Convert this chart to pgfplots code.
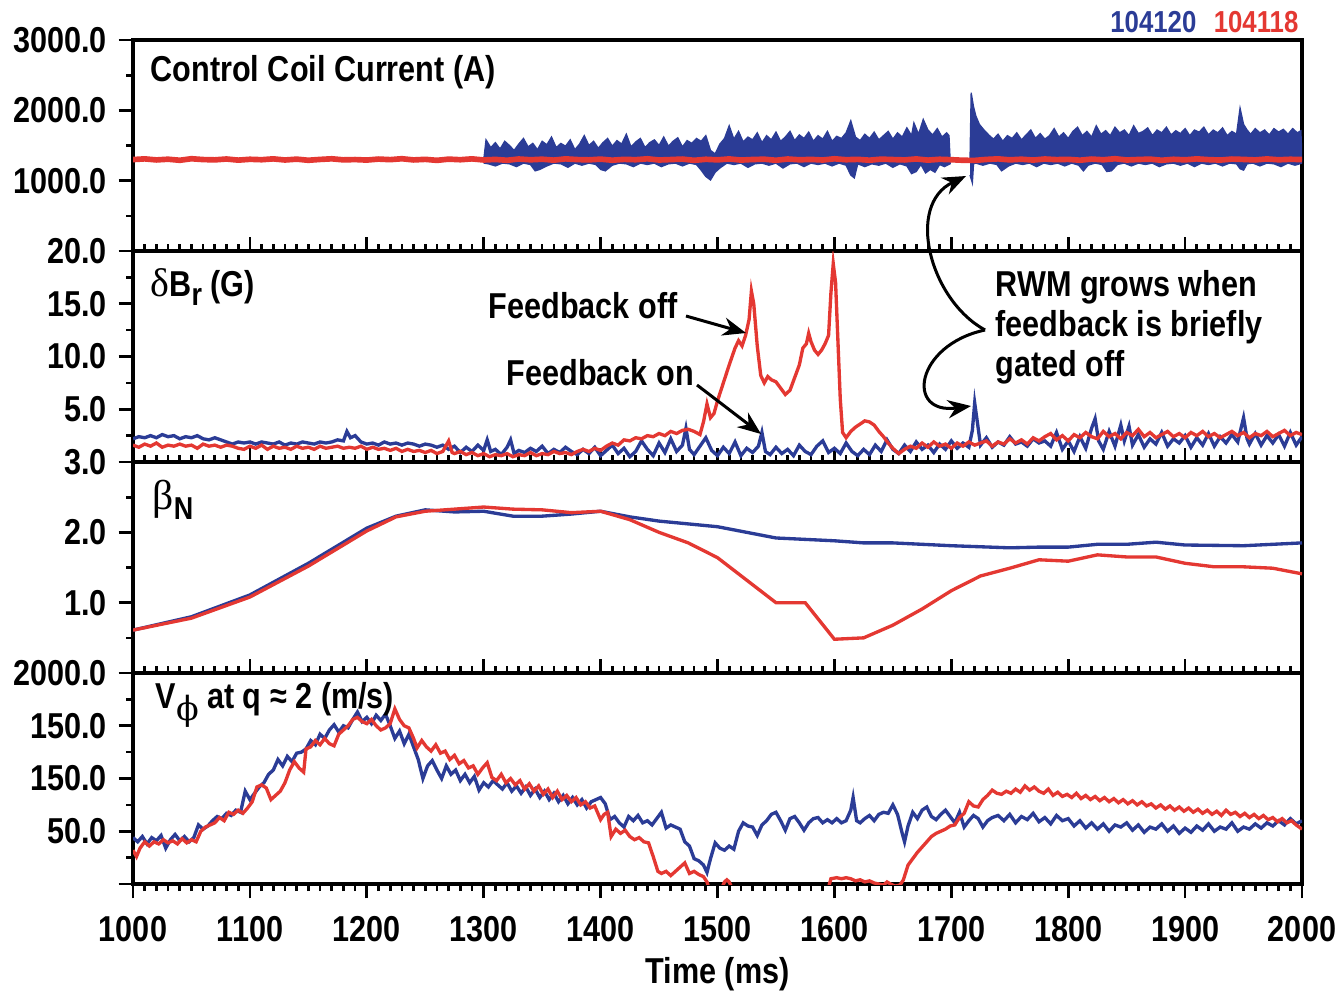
\documentclass[border=0pt]{standalone}
\usepackage{fontspec}
\setmainfont{Liberation Sans}[FakeStretch=0.85]
\newfontfamily\grk{Liberation Serif}
\newfontfamily\grkb{DejaVu Serif}
\usepackage{pgfplots}
\pgfplotsset{compat=1.18}
\usetikzlibrary{arrows.meta}
\definecolor{cblue}{RGB}{43,60,150}
\definecolor{cred}{RGB}{228,56,50}
\newcommand\tl{\fontsize{10.8}{12}\selectfont\bfseries}
\pgfplotsset{panel/.style={scale only axis, width=350.7pt, height=63.3pt,
  xmin=1000, xmax=2000, anchor=south west,
  axis line style={line width=1.1pt},
  xtick={1000,1100,...,2000}, minor x tick num=9,
  xtick pos=left, ytick pos=left, xtick align=inside, ytick align=outside,
  major tick length=4.3pt, minor tick length=2.1pt,
  tick style={line width=0.8pt, black},
  tick label style={font=\tl}, xticklabels={},
  unbounded coords=jump}}
\begin{document}
\begin{tikzpicture}
\path[use as bounding box] (0,0) rectangle (403.2pt,-297pt);
% ---------- panel 1 ----------
\begin{axis}[panel, at={(39.9pt,-75.3pt)}, ymin=0, ymax=3000,
  ytick={0,1000,2000,3000}, yticklabels={20.0,1000.0,2000.0,3000.0}, minor y tick num=1]
\addplot[cblue, line width=1pt] coordinates {(1000,1300) (1300,1300)};
\addplot[cblue, line width=1pt] coordinates {(1698,1300) (1717,1300)};
\addplot[draw=cblue, fill=cblue, line width=0.4pt] coordinates {
(1300,1290) (1302,1580) (1306,1470) (1310,1540) (1314,1450) (1318,1560) (1322,1500) (1326,1430) (1330,1520) (1334,1600)
(1338,1480) (1342,1530) (1346,1440) (1350,1560) (1354,1510) (1358,1620) (1362,1470) (1366,1530) (1370,1490) (1374,1580)
(1378,1440) (1382,1520) (1386,1640) (1390,1500) (1394,1560) (1398,1460) (1402,1540) (1406,1600) (1410,1490) (1414,1570)
(1418,1520) (1422,1660) (1426,1480) (1430,1550) (1434,1600) (1438,1470) (1442,1540) (1446,1580) (1450,1500) (1454,1620)
(1458,1490) (1462,1560) (1466,1610) (1470,1480) (1474,1570) (1478,1530) (1482,1600) (1486,1560) (1490,1640) (1494,1430)
(1498,1380) (1502,1520) (1506,1600) (1510,1780) (1514,1590) (1518,1700) (1522,1550) (1526,1620) (1530,1580) (1534,1680)
(1538,1540) (1542,1640) (1546,1580) (1550,1690) (1554,1560) (1558,1620) (1562,1700) (1566,1570) (1570,1650) (1574,1600)
(1578,1690) (1582,1560) (1586,1640) (1590,1590) (1594,1700) (1598,1560) (1602,1630) (1606,1600) (1610,1680) (1614,1850)
(1618,1620) (1622,1570) (1626,1660) (1630,1600) (1634,1690) (1638,1580) (1642,1640) (1646,1700) (1650,1590) (1654,1680)
(1658,1620) (1662,1750) (1666,1640) (1668,1820) (1672,1660) (1676,1870) (1680,1720) (1684,1650) (1688,1740) (1692,1620)
(1696,1680) (1698,1640) (1699,1290)
(1699,1240) (1694,1200) (1690,1230) (1686,1120) (1682,1160) (1678,1110) (1674,1230) (1670,1130) (1666,1100) (1662,1210)
(1656,1240) (1650,1190) (1644,1250) (1638,1220) (1632,1240) (1626,1200) (1620,1240) (1617,1040) (1614,1080) (1610,1220)
(1604,1250) (1598,1210) (1592,1250) (1586,1230) (1580,1250) (1574,1200) (1568,1250) (1562,1240) (1556,1180) (1550,1250)
(1544,1220) (1538,1250) (1532,1240) (1526,1190) (1520,1250) (1514,1230) (1508,1250) (1502,1180) (1498,1120) (1494,1010)
(1490,1060) (1486,1150) (1482,1230) (1476,1250) (1470,1210) (1464,1250) (1458,1240) (1452,1200) (1446,1250) (1440,1230)
(1434,1250) (1428,1200) (1422,1240) (1416,1250) (1410,1220) (1404,1140) (1400,1160) (1396,1230) (1390,1250) (1384,1220)
(1378,1250) (1372,1190) (1366,1240) (1360,1250) (1354,1210) (1348,1160) (1344,1140) (1340,1230) (1334,1250) (1328,1200)
(1322,1240) (1316,1250) (1310,1210) (1304,1240) (1300,1250)};
\addplot[draw=cblue, fill=cblue, line width=0.4pt] coordinates {
(1716,1290) (1717,2250) (1719,2050) (1721,1920) (1724,1800) (1728,1720) (1732,1650) (1736,1590) (1740,1660) (1744,1560)
(1748,1640) (1752,1600) (1756,1680) (1760,1580) (1764,1650) (1768,1720) (1772,1600) (1776,1670) (1780,1590) (1784,1640)
(1788,1740) (1792,1620) (1796,1680) (1800,1600) (1804,1700) (1808,1760) (1812,1640) (1816,1700) (1820,1620) (1824,1780)
(1828,1660) (1832,1710) (1836,1640) (1840,1760) (1844,1680) (1848,1720) (1852,1640) (1856,1780) (1860,1670) (1864,1700)
(1868,1750) (1872,1640) (1876,1720) (1880,1680) (1884,1760) (1888,1650) (1892,1710) (1896,1670) (1900,1740) (1904,1640)
(1908,1720) (1912,1690) (1916,1760) (1920,1650) (1924,1720) (1928,1680) (1932,1750) (1936,1640) (1940,1700) (1944,1660)
(1947,2030) (1950,1800) (1953,1720) (1956,1660) (1960,1740) (1964,1680) (1968,1720) (1972,1650) (1976,1740) (1980,1690)
(1984,1730) (1988,1660) (1992,1740) (1996,1680) (1999,1710) (2000,1300)
(2000,1250) (1994,1220) (1988,1250) (1982,1200) (1976,1240) (1970,1250) (1964,1210) (1958,1250) (1953,1240) (1950,1150)
(1947,1170) (1944,1240) (1938,1250) (1932,1210) (1926,1250) (1920,1230) (1914,1250) (1908,1200) (1902,1250) (1896,1220)
(1890,1250) (1884,1240) (1878,1200) (1872,1250) (1866,1230) (1860,1250) (1854,1210) (1848,1250) (1842,1230) (1837,1140)
(1833,1130) (1829,1230) (1823,1250) (1817,1220) (1813,1140) (1809,1220) (1803,1250) (1797,1210) (1791,1250) (1785,1230)
(1779,1250) (1773,1200) (1767,1250) (1761,1230) (1755,1250) (1749,1210) (1743,1140) (1739,1230) (1733,1250) (1727,1220)
(1721,1250) (1719,1240) (1718,970) (1716,1080)};
\addplot[cred, line width=1.7pt] coordinates {
(1000,1300) (1010,1310) (1020,1295) (1030,1305) (1040,1290) (1050,1312) (1060,1300) (1070,1296) (1080,1308) (1090,1292)
(1100,1304) (1110,1298) (1120,1310) (1130,1294) (1140,1306) (1150,1290) (1160,1302) (1170,1311) (1180,1296) (1190,1300)
(1200,1293) (1210,1307) (1220,1299) (1230,1312) (1240,1295) (1250,1303) (1260,1289) (1270,1306) (1280,1298) (1290,1310)
(1300,1294) (1310,1302) (1320,1290) (1330,1308) (1340,1297) (1350,1305) (1360,1292) (1370,1310) (1380,1300) (1390,1296)
(1400,1306) (1410,1291) (1420,1303) (1430,1298) (1440,1311) (1450,1294) (1460,1300) (1470,1307) (1480,1289) (1490,1304)
(1500,1296) (1510,1309) (1520,1293) (1530,1301) (1540,1305) (1550,1290) (1560,1308) (1570,1297) (1580,1302) (1590,1294)
(1600,1311) (1610,1298) (1620,1303) (1630,1291) (1640,1306) (1650,1300) (1660,1295) (1670,1309) (1680,1292) (1690,1304)
(1700,1298) (1710,1290) (1720,1288) (1730,1302) (1740,1310) (1750,1296) (1760,1305) (1770,1293) (1780,1308) (1790,1299)
(1800,1303) (1810,1291) (1820,1307) (1830,1297) (1840,1312) (1850,1294) (1860,1301) (1870,1306) (1880,1290) (1890,1304)
(1900,1296) (1910,1310) (1920,1299) (1930,1293) (1940,1307) (1950,1302) (1960,1295) (1970,1309) (1980,1297) (1990,1304) (2000,1300)};
\end{axis}
% ---------- panel 2 ----------
\begin{axis}[panel, at={(39.9pt,-138.6pt)}, ymin=0, ymax=20,
  ytick={0,5,10,15}, yticklabels={3.0,5.0,10.0,15.0}, minor ytick={2.5,7.5,12.5,17.5}]
\addplot[cblue, line width=1pt] coordinates {
(1000,2.2) (1005,2.4) (1010,2.3) (1015,2.5) (1020,2.3) (1025,2.6) (1030,2.4) (1035,2.5) (1040,2.2) (1045,2.4)
(1050,2.3) (1055,2.5) (1060,2.2) (1065,2.1) (1070,2.3) (1075,2.1) (1080,1.9) (1085,1.7) (1090,1.9) (1095,1.8)
(1100,1.9) (1105,1.7) (1110,1.9) (1115,1.8) (1120,1.7) (1125,1.9) (1130,1.6) (1135,1.8) (1140,1.7) (1145,1.9)
(1150,1.8) (1155,1.7) (1160,1.9) (1165,1.8) (1170,1.9) (1175,2.1) (1180,2.0) (1183,2.9) (1186,2.3) (1190,2.5)
(1195,1.9) (1200,1.7) (1205,1.8) (1210,1.6) (1215,1.9) (1220,1.7) (1225,1.8) (1230,1.6) (1235,1.8) (1240,1.7)
(1245,1.5) (1250,1.7) (1255,1.6) (1260,1.4) (1265,1.6) (1270,1.2) (1275,1.5) (1280,0.9) (1285,1.4) (1290,1.0)
(1295,1.6) (1300,1.1) (1303,2.1) (1306,1.0) (1310,1.2) (1315,0.7) (1320,1.4) (1323,2.1) (1326,0.8) (1330,1.1)
(1335,0.9) (1340,1.3) (1345,1.0) (1350,1.5) (1355,0.8) (1360,1.2) (1365,0.9) (1370,1.4) (1375,1.0) (1380,0.7)
(1385,1.2) (1390,0.8) (1395,1.4) (1400,0.6) (1405,1.1) (1410,1.6) (1415,0.8) (1420,1.3) (1425,0.5) (1430,1.0)
(1435,2.0) (1440,1.2) (1445,0.6) (1450,1.8) (1455,0.9) (1460,2.2) (1465,1.0) (1470,1.6) (1473,3.2) (1476,1.2)
(1480,0.7) (1485,1.5) (1490,2.3) (1495,1.1) (1500,0.6) (1505,1.4) (1510,0.8) (1515,1.9) (1520,0.6) (1525,1.3)
(1530,0.9) (1535,1.5) (1538,2.8) (1541,1.0) (1545,0.7) (1550,1.4) (1555,0.8) (1560,1.2) (1565,0.6) (1570,1.6)
(1575,1.0) (1580,0.7) (1585,1.5) (1590,2.0) (1595,0.9) (1600,1.3) (1605,0.8) (1610,1.8) (1615,1.0) (1620,0.6)
(1625,1.2) (1630,0.7) (1635,1.6) (1640,1.0) (1645,2.1) (1650,1.2) (1655,0.8) (1660,1.6) (1665,1.0) (1670,1.9)
(1675,1.2) (1680,1.6) (1685,0.9) (1690,1.7) (1695,1.2) (1700,2.0) (1705,1.3) (1710,1.8) (1715,1.4) (1718,3.0)
(1720,5.6) (1722,4.0) (1725,1.6) (1730,2.3) (1735,1.4) (1740,1.9) (1745,1.6) (1750,2.4) (1755,1.7) (1760,1.9)
(1765,1.5) (1770,2.2) (1775,1.8) (1780,2.0) (1785,1.5) (1790,2.8) (1795,1.2) (1800,2.0) (1805,1.0) (1810,2.4)
(1815,1.3) (1820,3.2) (1823,4.1) (1826,2.0) (1830,1.2) (1835,2.9) (1840,1.5) (1845,3.5) (1848,2.0) (1852,3.4)
(1855,1.6) (1860,2.6) (1865,1.4) (1870,2.2) (1875,1.7) (1880,2.8) (1885,1.5) (1890,2.2) (1895,1.8) (1900,2.5)
(1905,1.4) (1910,2.3) (1915,1.6) (1920,2.7) (1925,1.5) (1930,2.4) (1935,1.8) (1940,2.6) (1945,1.9) (1950,4.2)
(1953,2.2) (1955,1.7) (1960,2.7) (1965,1.6) (1970,2.5) (1975,1.8) (1980,2.6) (1985,1.5) (1990,2.8) (1995,1.6) (2000,2.4)};
\addplot[cred, line width=1pt] coordinates {
(1000,1.6) (1005,1.4) (1010,1.7) (1015,1.5) (1020,1.8) (1025,1.4) (1030,1.6) (1035,1.5) (1040,1.7) (1045,1.5)
(1050,1.6) (1055,1.3) (1060,1.7) (1065,1.5) (1070,1.6) (1075,1.4) (1080,1.6) (1085,1.5) (1090,1.3) (1095,1.2)
(1100,1.5) (1105,1.3) (1110,1.6) (1115,1.2) (1120,1.5) (1125,1.3) (1130,1.4) (1135,1.2) (1140,1.5) (1145,1.3)
(1150,1.4) (1155,1.2) (1160,1.5) (1165,1.3) (1170,1.4) (1175,1.5) (1180,1.3) (1185,1.4) (1190,1.3) (1195,1.5)
(1200,1.2) (1205,1.4) (1210,1.2) (1215,1.3) (1220,1.1) (1225,1.3) (1230,1.0) (1235,1.2) (1240,1.0) (1245,1.1)
(1250,0.9) (1255,1.1) (1260,0.8) (1265,1.0) (1270,2.0) (1273,0.9) (1275,0.8) (1280,1.0) (1285,0.7) (1290,0.9)
(1295,0.6) (1300,0.8) (1305,0.5) (1310,0.7) (1315,0.6) (1320,0.8) (1325,0.5) (1330,0.7) (1335,0.6) (1340,0.9)
(1345,0.6) (1350,0.8) (1355,0.7) (1360,1.0) (1365,0.8) (1370,0.9) (1375,0.7) (1380,1.0) (1385,1.2) (1390,1.0)
(1395,1.3) (1400,1.1) (1405,1.5) (1410,1.8) (1415,1.6) (1420,2.1) (1425,2.0) (1430,2.3) (1435,2.2) (1440,2.5)
(1445,2.4) (1450,2.7) (1455,2.5) (1460,2.9) (1465,2.7) (1470,3.0) (1475,3.1) (1480,2.9) (1485,2.6) (1488,3.8)
(1491,5.5) (1494,4.2) (1497,4.6) (1500,5.8) (1505,7.5) (1510,9.2) (1515,10.8) (1518,11.5) (1521,11.0) (1524,12.0)
(1527,13.5) (1529,16.2) (1531,15.0) (1534,11.0) (1537,8.2) (1540,7.5) (1543,8.1) (1546,7.8) (1550,7.6) (1554,7.0)
(1558,6.4) (1562,6.8) (1566,8.0) (1570,9.2) (1573,10.8) (1576,11.2) (1578,12.2) (1580,11.4) (1583,10.6) (1586,10.2)
(1589,10.6) (1592,11.2) (1595,12.0) (1597,16.0) (1599,18.8) (1601,17.0) (1603,11.5) (1605,6.0) (1607,2.8) (1610,2.3)
(1614,2.9) (1618,3.3) (1622,3.6) (1626,3.9) (1630,3.8) (1634,3.5) (1638,2.9) (1642,2.4) (1646,1.8) (1650,1.3)
(1655,0.8) (1660,1.2) (1665,1.5) (1670,1.3) (1675,1.8) (1680,1.4) (1685,1.9) (1690,1.5) (1695,1.7) (1700,1.3)
(1705,1.8) (1710,1.5) (1715,1.9) (1720,1.6) (1725,1.8) (1730,2.0) (1735,1.5) (1740,1.9) (1745,1.7) (1750,2.2)
(1755,1.8) (1760,2.1) (1765,1.7) (1770,2.3) (1775,2.0) (1780,2.4) (1785,2.7) (1790,2.1) (1795,2.5) (1800,2.0)
(1805,2.6) (1810,2.3) (1815,2.8) (1820,2.4) (1825,2.2) (1830,2.9) (1835,2.4) (1840,2.7) (1845,2.2) (1850,2.8)
(1855,2.5) (1860,3.1) (1865,2.4) (1870,2.8) (1875,2.3) (1880,2.6) (1885,2.9) (1890,2.4) (1895,2.7) (1900,2.3)
(1905,2.8) (1910,2.5) (1915,2.9) (1920,2.4) (1925,2.7) (1930,2.3) (1935,2.6) (1940,2.9) (1945,2.5) (1950,2.8)
(1955,2.3) (1960,2.7) (1965,2.5) (1970,2.9) (1975,2.4) (1980,2.7) (1985,3.0) (1990,2.5) (1995,2.8) (2000,2.6)};
\end{axis}
% ---------- panel 3 ----------
\begin{axis}[panel, at={(39.9pt,-201.9pt)}, ymin=0, ymax=3,
  ytick={0,1,2}, yticklabels={2000.0,1.0,2.0}, minor ytick={0.5,1.5,2.5}]
\addplot[cblue, line width=1pt] coordinates {
(1000,0.61) (1050,0.80) (1100,1.11) (1150,1.56) (1200,2.06) (1225,2.23) (1250,2.32) (1275,2.29) (1300,2.30)
(1325,2.23) (1350,2.23) (1375,2.26) (1400,2.30) (1425,2.22) (1450,2.16) (1500,2.08) (1550,1.92) (1600,1.88)
(1625,1.85) (1650,1.85) (1700,1.81) (1750,1.78) (1775,1.79) (1800,1.79) (1825,1.83) (1850,1.83) (1875,1.86)
(1900,1.82) (1950,1.81) (2000,1.85)};
\addplot[cred, line width=1pt] coordinates {
(1000,0.61) (1050,0.78) (1100,1.08) (1150,1.52) (1200,2.02) (1225,2.22) (1250,2.30) (1275,2.33) (1300,2.36)
(1325,2.33) (1350,2.32) (1375,2.28) (1400,2.30) (1425,2.18) (1450,2.00) (1475,1.85) (1500,1.64) (1525,1.32)
(1550,1.00) (1575,1.00) (1600,0.48) (1625,0.50) (1650,0.68) (1675,0.91) (1700,1.17) (1725,1.38) (1750,1.49)
(1775,1.61) (1800,1.59) (1825,1.68) (1850,1.65) (1875,1.65) (1900,1.56) (1925,1.51) (1950,1.51) (1975,1.49) (2000,1.41)};
\end{axis}
% ---------- panel 4 ----------
\begin{axis}[panel, at={(39.9pt,-265.2pt)}, ymin=0, ymax=200,
  ytick={0,50,100,150}, yticklabels={,50.0,150.0,150.0}, minor ytick={25,75,125,175},
  xtick align=outside, xticklabels={1000,1100,1200,1300,1400,1500,1600,1700,1800,1900,2000},
  xticklabel style={yshift=-1.8pt},
  xlabel={Time (ms)}, xlabel style={font=\tl, yshift=2.2pt}]
\addplot[cblue, line width=1pt] coordinates {
(1000,44) (1004,40) (1008,45) (1012,38) (1016,44) (1020,41) (1024,46) (1028,34) (1032,42) (1036,47)
(1040,41) (1044,45) (1048,40) (1052,44) (1056,56) (1060,52) (1064,55) (1068,60) (1072,64) (1076,62)
(1080,67) (1084,65) (1088,70) (1092,68) (1096,88) (1100,80) (1104,86) (1108,92) (1112,96) (1116,104)
(1120,108) (1124,118) (1128,112) (1132,121) (1136,116) (1140,124) (1144,125) (1148,128) (1152,136) (1156,132)
(1160,142) (1164,138) (1168,146) (1172,151) (1176,144) (1180,150) (1184,148) (1188,156) (1192,163) (1196,154)
(1200,158) (1204,152) (1208,160) (1212,155) (1216,161) (1220,150) (1224,138) (1228,145) (1232,133) (1236,142)
(1240,130) (1244,118) (1248,100) (1252,112) (1256,117) (1260,108) (1264,100) (1268,112) (1272,104) (1276,108)
(1280,98) (1284,104) (1288,96) (1292,102) (1296,89) (1300,96) (1304,92) (1308,98) (1312,94) (1316,90)
(1320,96) (1324,88) (1328,93) (1332,86) (1336,92) (1340,84) (1344,90) (1348,82) (1352,88) (1356,80)
(1360,86) (1364,78) (1368,84) (1372,76) (1376,82) (1380,75) (1384,80) (1388,72) (1392,78) (1396,80)
(1400,82) (1404,76) (1408,61) (1412,64) (1416,58) (1420,54) (1424,64) (1428,60) (1432,65) (1436,58)
(1440,60) (1444,56) (1448,62) (1452,68) (1456,53) (1460,56) (1464,54) (1468,52) (1472,40) (1476,36)
(1480,24) (1484,22) (1488,18) (1491,11) (1494,24) (1498,39) (1502,34) (1506,32) (1510,36) (1514,33)
(1518,50) (1522,58) (1526,55) (1530,54) (1534,46) (1538,56) (1542,60) (1546,66) (1550,68) (1554,60)
(1558,51) (1562,62) (1566,64) (1570,58) (1574,51) (1578,58) (1582,62) (1586,63) (1590,58) (1594,61)
(1598,58) (1602,62) (1606,58) (1610,60) (1614,70) (1616,82) (1619,60) (1622,58) (1626,62) (1630,65)
(1634,60) (1638,66) (1642,68) (1646,67) (1650,75) (1654,66) (1658,48) (1660,40) (1663,55) (1667,68)
(1671,62) (1675,70) (1679,73) (1683,64) (1687,61) (1691,66) (1695,70) (1699,64) (1703,58) (1707,68)
(1711,54) (1715,60) (1719,65) (1723,62) (1727,54) (1731,60) (1735,63) (1740,65) (1745,60) (1750,66)
(1755,58) (1760,64) (1765,61) (1770,67) (1775,59) (1780,63) (1785,57) (1790,65) (1795,60) (1800,62)
(1805,55) (1810,60) (1815,53) (1820,58) (1825,52) (1830,57) (1835,50) (1840,56) (1845,54) (1850,58)
(1855,51) (1860,56) (1865,49) (1870,54) (1875,52) (1880,57) (1885,50) (1890,55) (1895,48) (1900,53)
(1905,49) (1910,55) (1915,51) (1920,57) (1925,50) (1930,54) (1935,52) (1940,58) (1945,50) (1950,54)
(1955,52) (1960,57) (1965,53) (1970,58) (1975,55) (1980,60) (1985,56) (1990,62) (1995,57) (2000,60)};
\addplot[cred, line width=1pt] coordinates {
(1000,32) (1003,26) (1006,34) (1010,40) (1014,36) (1018,40) (1022,38) (1026,42) (1030,39) (1034,41)
(1038,38) (1042,43) (1046,39) (1050,42) (1054,40) (1058,50) (1062,54) (1066,56) (1070,58) (1074,63)
(1078,60) (1082,68) (1086,66) (1090,70) (1094,67) (1098,72) (1102,78) (1106,92) (1110,94) (1114,91)
(1118,80) (1122,84) (1126,88) (1130,96) (1134,108) (1138,116) (1142,110) (1146,106) (1148,128) (1152,130)
(1156,136) (1160,132) (1164,138) (1168,133) (1172,131) (1176,142) (1180,146) (1184,150) (1188,156) (1192,158)
(1196,154) (1200,152) (1204,156) (1208,150) (1212,146) (1216,148) (1220,152) (1224,166) (1228,156) (1232,150)
(1236,148) (1240,138) (1243,129) (1247,136) (1251,130) (1255,126) (1259,132) (1263,124) (1267,126) (1271,118)
(1275,122) (1279,114) (1283,117) (1287,110) (1291,112) (1295,104) (1299,110) (1303,115) (1307,101) (1311,98)
(1315,104) (1319,96) (1323,100) (1327,94) (1331,98) (1335,90) (1339,95) (1343,88) (1347,93) (1351,85)
(1355,90) (1359,82) (1363,88) (1367,80) (1371,84) (1375,78) (1379,82) (1383,75) (1387,78) (1391,72)
(1395,74) (1400,61) (1403,66) (1406,68) (1409,45) (1413,52) (1417,48) (1421,51) (1425,45) (1429,42)
(1433,44) (1437,40) (1441,39) (1445,26) (1449,12) (1452,10) (1456,12) (1460,8) (1464,12) (1468,16)
(1472,20) (1476,10) (1480,12) (1484,9) (1488,7) (1491,2) (1493,-5) (1495,nan)
(1504,-3) (1506,2) (1508,4) (1510,2) (1512,-3) (1514,nan)
(1595,-3) (1597,5) (1602,6) (1606,5) (1610,6) (1614,5) (1618,3) (1622,4) (1626,2) (1630,3)
(1634,1) (1638,0) (1642,-1) (1645,2) (1648,0) (1652,-2) (1656,-1) (1659,4) (1663,18) (1667,24)
(1671,30) (1675,35) (1679,40) (1683,45) (1687,48) (1691,50) (1695,52) (1699,55) (1703,56) (1707,63)
(1711,67) (1715,78) (1719,74) (1723,73) (1727,80) (1731,84) (1735,89) (1739,86) (1743,85) (1747,88)
(1751,86) (1755,90) (1759,87) (1763,93) (1767,89) (1771,92) (1775,88) (1779,86) (1783,90) (1787,84)
(1791,87) (1795,83) (1799,85) (1803,82) (1807,86) (1811,81) (1815,84) (1819,80) (1823,83) (1827,79)
(1831,82) (1835,78) (1839,81) (1843,77) (1847,80) (1851,76) (1855,79) (1859,75) (1863,78) (1867,74)
(1871,76) (1875,72) (1879,75) (1883,71) (1887,74) (1891,70) (1895,73) (1899,69) (1903,72) (1907,68)
(1911,71) (1915,67) (1919,70) (1923,66) (1927,69) (1931,65) (1935,70) (1939,66) (1943,68) (1947,64)
(1951,67) (1955,63) (1959,66) (1963,62) (1967,65) (1971,61) (1975,63) (1979,59) (1983,62) (1987,58)
(1991,60) (1995,56) (2000,52)};
\end{axis}
% ---------- annotations (pixel grid) ----------
\begin{scope}[x=0.3pt, y=-0.3pt, font=\tl]
\node[anchor=west, inner sep=0] at (150,72) {Control Coil Current (A)};
\node[anchor=west, inner sep=0] at (150,287) {{\grk\mdseries\fontsize{12}{12}\selectfont δ}B\raisebox{-2.5pt}{\fontsize{9.5}{9.5}\selectfont r} (G)};
\node[anchor=west, inner sep=0] at (152,500) {{\grk\mdseries\fontsize{12.5}{12}\selectfont β}\raisebox{-3pt}{\fontsize{9.5}{9.5}\selectfont N}};
\node[anchor=west, inner sep=0] at (155,705) {V\raisebox{-3.5pt}{\grkb\mdseries\fontsize{10}{10}\selectfont ϕ} at q ≈ 2 (m/s)};
\node[anchor=east, inner sep=0, text=cblue, font=\fontsize{9.1}{10}\selectfont\bfseries] at (1197,22) {104120};
\node[anchor=east, inner sep=0, text=cred, font=\fontsize{9.1}{10}\selectfont\bfseries] at (1299,22) {104118};
\node[anchor=west, inner sep=0] at (488,306) {Feedback off};
\node[anchor=west, inner sep=0] at (506,373) {Feedback on};
\node[anchor=west, inner sep=0] at (995,287) {RWM grows when};
\node[anchor=west, inner sep=0] at (995,327) {feedback is briefly};
\node[anchor=west, inner sep=0] at (995,367) {gated off};
\draw[line width=0.9pt, -{Stealth[length=7pt,width=5.5pt]}] (686,316) -- (746,333);
\draw[line width=0.9pt, -{Stealth[length=7pt,width=5.5pt]}] (697,385) -- (761,434);
\draw[line width=0.9pt, -{Stealth[length=7pt,width=5.5pt]}] (985,330) .. controls (930,300) and (905,205) .. (966,176);
\draw[line width=0.9pt, -{Stealth[length=7pt,width=5.5pt]}] (985,330) .. controls (915,345) and (905,415) .. (971,406);
\end{scope}
\end{tikzpicture}
\end{document}
